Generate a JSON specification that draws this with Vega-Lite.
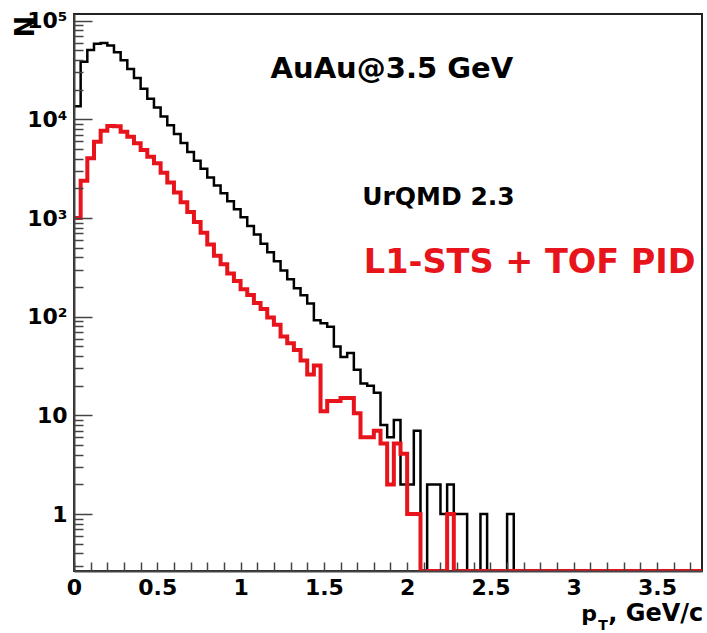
{
  "$schema": "https://vega.github.io/schema/vega-lite/v6.json",
  "width": 628,
  "height": 557,
  "autosize": {"type": "none"},
  "padding": {"left": 74, "top": 14, "right": 5, "bottom": 62},
  "background": "white",
  "config": {
    "view": {"stroke": "#222", "strokeWidth": 2},
    "font": "DejaVu Sans"
  },
  "data": {
    "values": [
      {"pt": 0.00, "all": 13600, "pid": 1000},
      {"pt": 0.04, "all": 38500, "pid": 2390},
      {"pt": 0.08, "all": 50500, "pid": 4030},
      {"pt": 0.12, "all": 58500, "pid": 5940},
      {"pt": 0.16, "all": 59500, "pid": 7680},
      {"pt": 0.20, "all": 56000, "pid": 8570},
      {"pt": 0.24, "all": 48000, "pid": 8500},
      {"pt": 0.28, "all": 39800, "pid": 7500},
      {"pt": 0.32, "all": 32400, "pid": 6670},
      {"pt": 0.36, "all": 26300, "pid": 5720},
      {"pt": 0.40, "all": 20400, "pid": 4890},
      {"pt": 0.44, "all": 16200, "pid": 4180},
      {"pt": 0.48, "all": 13200, "pid": 3590},
      {"pt": 0.52, "all": 10700, "pid": 2880},
      {"pt": 0.56, "all": 8700, "pid": 2290},
      {"pt": 0.60, "all": 7100, "pid": 1820},
      {"pt": 0.64, "all": 5750, "pid": 1450},
      {"pt": 0.68, "all": 4680, "pid": 1150},
      {"pt": 0.72, "all": 3800, "pid": 910},
      {"pt": 0.76, "all": 3160, "pid": 710},
      {"pt": 0.80, "all": 2570, "pid": 540},
      {"pt": 0.84, "all": 2140, "pid": 415},
      {"pt": 0.88, "all": 1780, "pid": 340},
      {"pt": 0.92, "all": 1480, "pid": 275},
      {"pt": 0.96, "all": 1230, "pid": 230},
      {"pt": 1.00, "all": 1020, "pid": 190},
      {"pt": 1.04, "all": 830, "pid": 166},
      {"pt": 1.08, "all": 680, "pid": 138},
      {"pt": 1.12, "all": 550, "pid": 120},
      {"pt": 1.16, "all": 450, "pid": 98},
      {"pt": 1.20, "all": 365, "pid": 83},
      {"pt": 1.24, "all": 295, "pid": 63},
      {"pt": 1.28, "all": 240, "pid": 54},
      {"pt": 1.32, "all": 195, "pid": 46},
      {"pt": 1.36, "all": 165, "pid": 36},
      {"pt": 1.40, "all": 136, "pid": 26},
      {"pt": 1.44, "all": 92, "pid": 32},
      {"pt": 1.48, "all": 86, "pid": 11},
      {"pt": 1.52, "all": 79, "pid": 14},
      {"pt": 1.56, "all": 50, "pid": 14},
      {"pt": 1.60, "all": 39, "pid": 15},
      {"pt": 1.64, "all": 43, "pid": 15},
      {"pt": 1.68, "all": 29, "pid": 10.5},
      {"pt": 1.72, "all": 21, "pid": 6},
      {"pt": 1.76, "all": 20, "pid": 6},
      {"pt": 1.80, "all": 17, "pid": 7},
      {"pt": 1.84, "all": 8, "pid": 5.2},
      {"pt": 1.88, "all": 6, "pid": 2},
      {"pt": 1.92, "all": 9, "pid": 5.2},
      {"pt": 1.96, "all": 2, "pid": 4.1},
      {"pt": 2.00, "all": 2, "pid": 1},
      {"pt": 2.04, "all": 7, "pid": 1},
      {"pt": 2.08, "all": 0.265, "pid": 0.265},
      {"pt": 2.12, "all": 2, "pid": 0.265},
      {"pt": 2.16, "all": 2, "pid": 0.265},
      {"pt": 2.20, "all": 1, "pid": 0.265},
      {"pt": 2.24, "all": 2, "pid": 1},
      {"pt": 2.28, "all": 1, "pid": 0.265},
      {"pt": 2.32, "all": 1, "pid": 0.265},
      {"pt": 2.36, "all": 0.265, "pid": 0.265},
      {"pt": 2.40, "all": 0.265, "pid": 0.265},
      {"pt": 2.44, "all": 1, "pid": 0.265},
      {"pt": 2.48, "all": 0.265, "pid": 0.265},
      {"pt": 2.52, "all": 0.265, "pid": 0.265},
      {"pt": 2.56, "all": 0.265, "pid": 0.265},
      {"pt": 2.60, "all": 1, "pid": 0.265},
      {"pt": 2.64, "all": 0.265, "pid": 0.265},
      {"pt": 3.80, "all": 0.265, "pid": 0.265}
    ]
  },
  "layer": [
    {
      "mark": {"type": "line", "interpolate": "step-after", "color": "#000000", "strokeWidth": 2.5, "clip": true},
      "encoding": {
        "x": {
          "field": "pt", "type": "quantitative", "title": null,
          "scale": {"domain": [0, 3.77], "nice": false, "zero": false},
          "axis": {
            "values": [0,0.1,0.2,0.3,0.4,0.5,0.6,0.7,0.8,0.9,1,1.1,1.2,1.3,1.4,1.5,1.6,1.7,1.8,1.9,2,2.1,2.2,2.3,2.4,2.5,2.6,2.7,2.8,2.9,3,3.1,3.2,3.3,3.4,3.5,3.6,3.7],
            "tickCount": 200,
            "labelExpr": "datum.value == 0 ? '0' : datum.value == 0.5 ? '0.5' : datum.value == 1 ? '1' : datum.value == 1.5 ? '1.5' : datum.value == 2 ? '2' : datum.value == 2.5 ? '2.5' : datum.value == 3 ? '3' : datum.value == 3.5 ? '3.5' : ''",
            "labelOverlap": false,
            "labelFlush": false,
            "labelBound": false,
            "grid": false,
            "ticks": true,
            "tickSize": -9,
            "tickColor": "#444",
            "tickWidth": 1.5,
            "domainColor": "#444",
            "domainWidth": 2,
            "labelPadding": 15,
            "labelFont": "DejaVu Sans",
            "labelFontSize": 22,
            "labelFontWeight": "bold",
            "labelColor": "#000",
            "zindex": 1
          }
        },
        "y": {
          "field": "all", "type": "quantitative", "title": "N",
          "scale": {"type": "log", "domain": [0.265, 117000], "nice": false},
          "axis": {
            "values": [0.3,0.4,0.5,0.6,0.7,0.8,0.9,1,2,3,4,5,6,7,8,9,10,20,30,40,50,60,70,80,90,100,200,300,400,500,600,700,800,900,1000,2000,3000,4000,5000,6000,7000,8000,9000,10000,20000,30000,40000,50000,60000,70000,80000,90000,100000],
            "labelExpr": "datum.value == 1 ? '1' : datum.value == 10 ? '10' : datum.value == 100 ? '10²' : datum.value == 1000 ? '10³' : datum.value == 10000 ? '10⁴' : datum.value == 100000 ? '10⁵' : ''",
            "labelOverlap": false,
            "labelFlush": false,
            "grid": true,
            "gridColor": "#444",
            "gridWidth": 1.5,
            "gridOpacity": 1,
            "gridDash": {"condition": {"test": "datum.value == 1 || datum.value == 10 || datum.value == 100 || datum.value == 1000 || datum.value == 10000 || datum.value == 100000", "value": [18, 2000]}, "value": [9, 2000]},
            "ticks": false,
            "domainColor": "#444",
            "domainWidth": 2,
            "labelPadding": 7,
            "labelFont": "DejaVu Sans",
            "labelFontSize": 22,
            "labelFontWeight": "bold",
            "labelColor": "#000",
            "titleFont": "DejaVu Sans",
            "titleFontSize": 26,
            "titleFontWeight": "bold",
            "titleColor": "#000",
            "titleAngle": -90,
            "titleAlign": "center",
            "titleBaseline": "alphabetic",
            "titleX": -41,
            "titleY": 12,
            "zindex": 1
          }
        }
      }
    },
    {
      "mark": {"type": "line", "interpolate": "step-after", "color": "#e8141b", "strokeWidth": 4, "clip": true},
      "encoding": {
        "x": {"field": "pt", "type": "quantitative", "title": null},
        "y": {"field": "pid", "type": "quantitative", "title": "N"}
      }
    },
    {
      "data": {"values": [{}]},
      "mark": {"type": "text", "text": "AuAu@3.5 GeV", "align": "left", "baseline": "alphabetic", "font": "DejaVu Sans", "fontSize": 29, "fontWeight": "bold", "color": "#000"},
      "encoding": {
        "x": {"datum": 1.18, "type": "quantitative", "title": null},
        "y": {"datum": 26250, "type": "quantitative", "title": "N"}
      }
    },
    {
      "data": {"values": [{}]},
      "mark": {"type": "text", "text": "UrQMD 2.3", "align": "left", "baseline": "alphabetic", "font": "DejaVu Sans", "fontSize": 25, "fontWeight": "bold", "color": "#000"},
      "encoding": {
        "x": {"datum": 1.73, "type": "quantitative", "title": null},
        "y": {"datum": 1355, "type": "quantitative", "title": "N"}
      }
    },
    {
      "data": {"values": [{}]},
      "mark": {"type": "text", "text": "L1-STS + TOF PID", "align": "left", "baseline": "alphabetic", "font": "DejaVu Sans", "fontSize": 33.5, "fontWeight": "bold", "color": "#e8141b"},
      "encoding": {
        "x": {"datum": 1.74, "type": "quantitative", "title": null},
        "y": {"datum": 277, "type": "quantitative", "title": "N"}
      }
    },
    {
      "data": {"values": [{}]},
      "mark": {"type": "text", "text": "p", "align": "left", "baseline": "alphabetic", "font": "DejaVu Sans", "fontSize": 22, "fontWeight": "bold", "color": "#000", "clip": false},
      "encoding": {
        "x": {"datum": 3.045, "type": "quantitative", "title": null},
        "y": {"datum": 0.0823, "type": "quantitative", "title": "N"}
      }
    },
    {
      "data": {"values": [{}]},
      "mark": {"type": "text", "text": "T", "align": "left", "baseline": "alphabetic", "font": "DejaVu Sans", "fontSize": 14, "fontWeight": "bold", "color": "#000", "clip": false},
      "encoding": {
        "x": {"datum": 3.147, "type": "quantitative", "title": null},
        "y": {"datum": 0.0667, "type": "quantitative", "title": "N"}
      }
    },
    {
      "data": {"values": [{}]},
      "mark": {"type": "text", "text": ", GeV/c", "align": "left", "baseline": "alphabetic", "font": "DejaVu Sans", "fontSize": 24, "fontWeight": "bold", "color": "#000", "clip": false},
      "encoding": {
        "x": {"datum": 3.207, "type": "quantitative", "title": null},
        "y": {"datum": 0.0823, "type": "quantitative", "title": "N"}
      }
    }
  ]
}
